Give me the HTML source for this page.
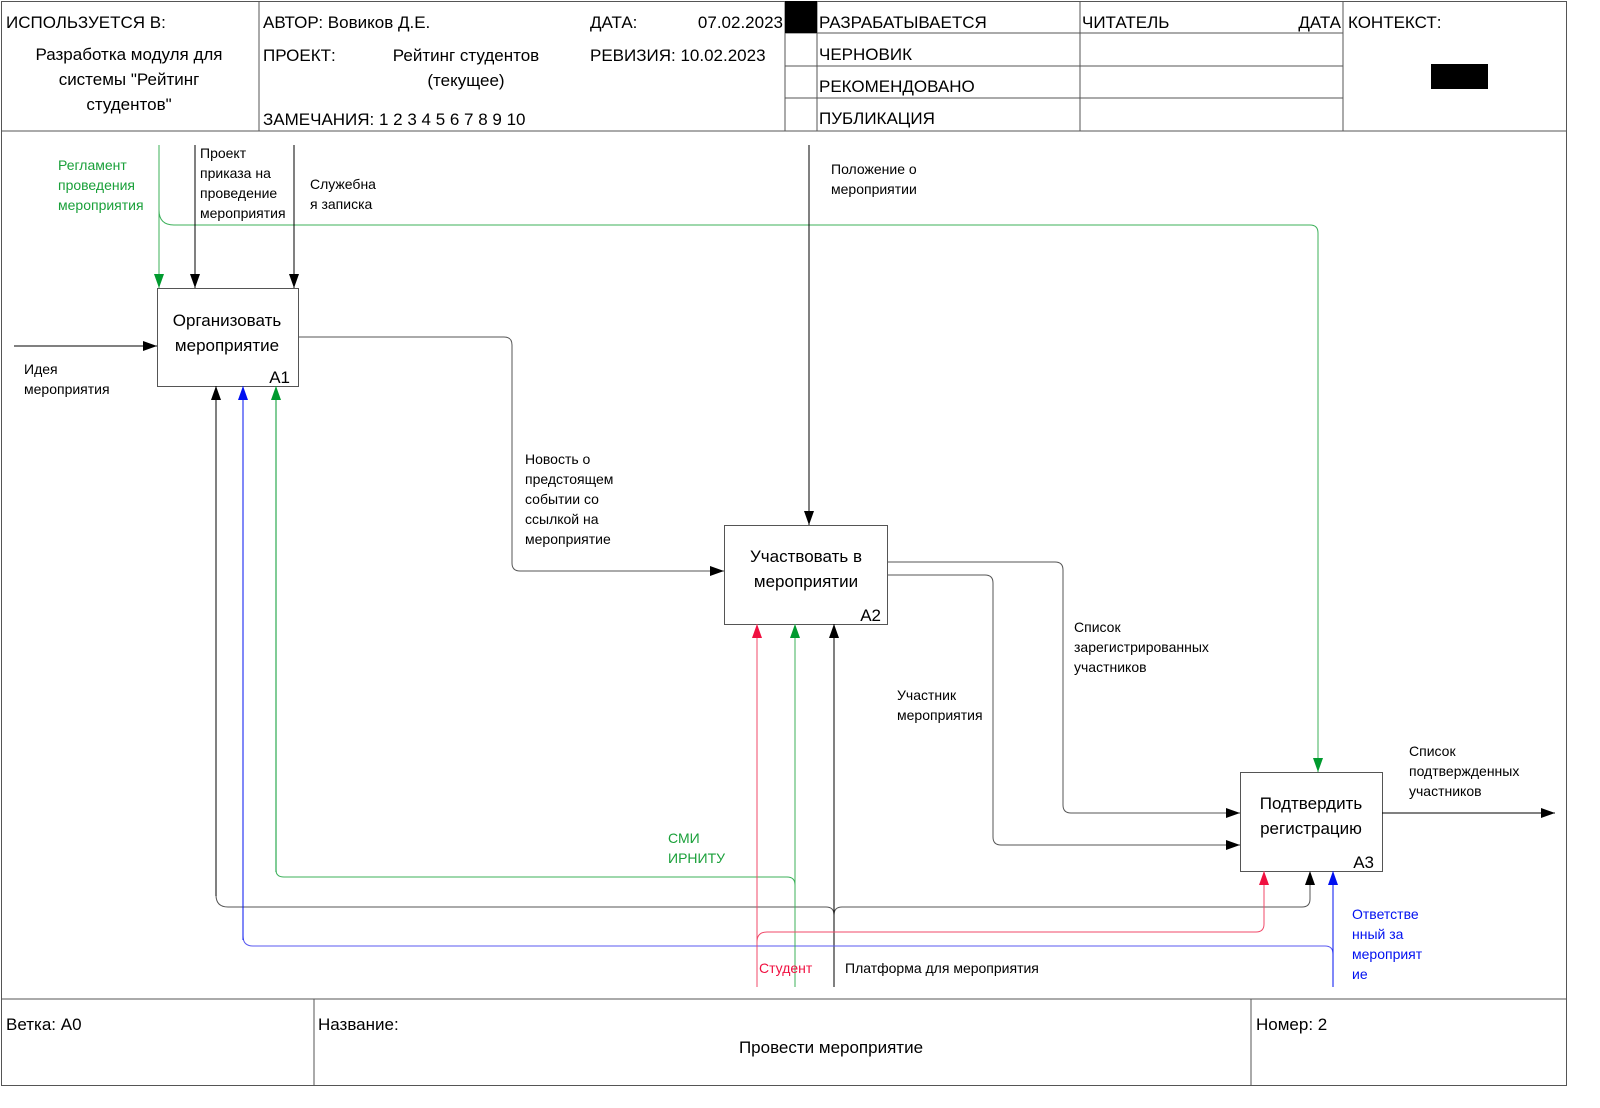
<!DOCTYPE html><html><head><meta charset="utf-8"><style>html,body{margin:0;padding:0;width:1600px;height:1108px;overflow:hidden;background:#fff}svg{display:block;position:absolute;left:0;top:0}text{font-family:"Liberation Sans",sans-serif}</style></head><body>
<svg width="1600" height="1108" viewBox="0 0 1600 1108">
<defs>
<marker id="ak" markerWidth="14" markerHeight="10" refX="14" refY="5" orient="auto" markerUnits="userSpaceOnUse"><path d="M0,0L14,5L0,10z" fill="#000"/></marker>
<marker id="ag" markerWidth="14" markerHeight="10" refX="14" refY="5" orient="auto" markerUnits="userSpaceOnUse"><path d="M0,0L14,5L0,10z" fill="#009a2e"/></marker>
<marker id="ar" markerWidth="14" markerHeight="10" refX="14" refY="5" orient="auto" markerUnits="userSpaceOnUse"><path d="M0,0L14,5L0,10z" fill="#f01040"/></marker>
<marker id="ab" markerWidth="14" markerHeight="10" refX="14" refY="5" orient="auto" markerUnits="userSpaceOnUse"><path d="M0,0L14,5L0,10z" fill="#0010f0"/></marker>
</defs>
<g fill="none" stroke="#555" stroke-width="1">
<rect x="1.5" y="1.5" width="1565" height="1084"/>
<line x1="1" y1="131" x2="1566" y2="131"/>
<line x1="259" y1="1" x2="259" y2="131"/>
<line x1="785" y1="1" x2="785" y2="131"/>
<line x1="817" y1="1" x2="817" y2="131"/>
<line x1="1080" y1="1" x2="1080" y2="131"/>
<line x1="1343" y1="1" x2="1343" y2="131"/>
<line x1="785" y1="33" x2="1343" y2="33"/>
<line x1="785" y1="66" x2="1343" y2="66"/>
<line x1="785" y1="98" x2="1343" y2="98"/>
<line x1="1" y1="999" x2="1566" y2="999"/>
<line x1="314" y1="999" x2="314" y2="1085"/>
<line x1="1251" y1="999" x2="1251" y2="1085"/>
<rect x="157.5" y="288.5" width="141" height="98"/>
<rect x="724.5" y="525.5" width="163" height="99"/>
<rect x="1240.5" y="772.5" width="142" height="99"/>
</g>
<rect x="785" y="1" width="32" height="32" fill="#000"/>
<rect x="1431" y="64" width="57" height="25" fill="#000"/>
<g font-size="17" fill="#000">
<text x="6" y="28">ИСПОЛЬЗУЕТСЯ В:</text>
<text x="129" y="60" text-anchor="middle">Разработка модуля для</text>
<text x="129" y="85" text-anchor="middle">системы "Рейтинг</text>
<text x="129" y="110" text-anchor="middle">студентов"</text>
<text x="263" y="28">АВТОР: Вовиков Д.Е.</text>
<text x="263" y="61">ПРОЕКТ:</text>
<text x="466" y="61" text-anchor="middle">Рейтинг студентов</text>
<text x="466" y="86" text-anchor="middle">(текущее)</text>
<text x="263" y="125">ЗАМЕЧАНИЯ: 1 2 3 4 5 6 7 8 9 10</text>
<text x="590" y="28">ДАТА:</text>
<text x="783" y="28" text-anchor="end">07.02.2023</text>
<text x="590" y="61">РЕВИЗИЯ: 10.02.2023</text>
<text x="819" y="28">РАЗРАБАТЫВАЕТСЯ</text>
<text x="819" y="60">ЧЕРНОВИК</text>
<text x="819" y="92">РЕКОМЕНДОВАНО</text>
<text x="819" y="124">ПУБЛИКАЦИЯ</text>
<text x="1082" y="28">ЧИТАТЕЛЬ</text>
<text x="1341" y="28" text-anchor="end">ДАТА</text>
<text x="1348" y="28">КОНТЕКСТ:</text>
<text x="6" y="1030">Ветка: А0</text>
<text x="318" y="1030">Название:</text>
<text x="831" y="1053" text-anchor="middle">Провести мероприятие</text>
<text x="1256" y="1030">Номер: 2</text>
<text x="227" y="326" text-anchor="middle">Организовать</text>
<text x="227" y="351" text-anchor="middle">мероприятие</text>
<text x="290" y="383" text-anchor="end">A1</text>
<text x="806" y="562" text-anchor="middle">Участвовать в</text>
<text x="806" y="587" text-anchor="middle">мероприятии</text>
<text x="881" y="621" text-anchor="end">A2</text>
<text x="1311" y="809" text-anchor="middle">Подтвердить</text>
<text x="1311" y="834" text-anchor="middle">регистрацию</text>
<text x="1374" y="868" text-anchor="end">A3</text>
</g>
<g fill="none" stroke-width="1">
<path d="M159,145V288" stroke="#3cb05a" marker-end="url(#ag)"/>
<path d="M159,210Q159,225 174,225H1310Q1318,225 1318,233V772" stroke="#3cb05a" marker-end="url(#ag)"/>
<path d="M195,145V288" stroke="#000" marker-end="url(#ak)"/>
<path d="M294,145V288" stroke="#000" marker-end="url(#ak)"/>
<path d="M14,346H157" stroke="#000" marker-end="url(#ak)"/>
<path d="M298,337H504Q512,337 512,345V563Q512,571 520,571H724" stroke="#555" marker-end="url(#ak)"/>
<path d="M809,145V525" stroke="#000" marker-end="url(#ak)"/>
<path d="M887,562H1055Q1063,562 1063,570V805Q1063,813 1071,813H1240" stroke="#555" marker-end="url(#ak)"/>
<path d="M887,575H985Q993,575 993,583V837Q993,845 1001,845H1240" stroke="#555" marker-end="url(#ak)"/>
<path d="M1382,813H1555" stroke="#000" marker-end="url(#ak)"/>
<path d="M216,895Q216,907 228,907H826Q834,907 834,915Q834,907 842,907H1302Q1310,907 1310,899V871" stroke="#555" marker-end="url(#ak)"/>
<path d="M216,896V386" stroke="#000" marker-end="url(#ak)"/>
<path d="M834,987V624" stroke="#000" marker-end="url(#ak)"/>
<path d="M243,936Q243,946 253,946H1325Q1333,946 1333,954" stroke="#5a5af0"/>
<path d="M243,940V386" stroke="#0010f0" marker-end="url(#ab)"/>
<path d="M1333,987V871" stroke="#0010f0" marker-end="url(#ab)"/>
<path d="M276,870Q276,877 284,877H787Q795,877 795,885" stroke="#3cb05a"/>
<path d="M276,872V386" stroke="#009a2e" marker-end="url(#ag)"/>
<path d="M795,987V624" stroke="#3cb05a" marker-end="url(#ag)"/>
<path d="M757,987V624" stroke="#f04a6a" marker-end="url(#ar)"/>
<path d="M757,942Q757,932 767,932H1256Q1264,932 1264,924V871" stroke="#f04a6a" marker-end="url(#ar)"/>
</g>
<g font-size="14">
<g fill="#1aa03a"><text x="58" y="170">Регламент</text><text x="58" y="190">проведения</text><text x="58" y="210">мероприятия</text>
<text x="668" y="843">СМИ</text><text x="668" y="863">ИРНИТУ</text></g>
<g fill="#000"><text x="200" y="158">Проект</text><text x="200" y="178">приказа на</text><text x="200" y="198">проведение</text><text x="200" y="218">мероприятия</text>
<text x="310" y="189">Служебна</text><text x="310" y="209">я записка</text>
<text x="831" y="174">Положение о</text><text x="831" y="194">мероприятии</text>
<text x="24" y="374">Идея</text><text x="24" y="394">мероприятия</text>
<text x="525" y="464">Новость о</text><text x="525" y="484">предстоящем</text><text x="525" y="504">событии со</text><text x="525" y="524">ссылкой на</text><text x="525" y="544">мероприятие</text>
<text x="1074" y="632">Список</text><text x="1074" y="652">зарегистрированных</text><text x="1074" y="672">участников</text>
<text x="897" y="700">Участник</text><text x="897" y="720">мероприятия</text>
<text x="1409" y="756">Список</text><text x="1409" y="776">подтвержденных</text><text x="1409" y="796">участников</text>
<text x="845" y="973">Платформа для мероприятия</text></g>
<text x="759" y="973" fill="#f01040">Студент</text>
<g fill="#0010f0"><text x="1352" y="919">Ответстве</text><text x="1352" y="939">нный за</text><text x="1352" y="959">мероприят</text><text x="1352" y="979">ие</text></g>
</g>
</svg></body></html>
